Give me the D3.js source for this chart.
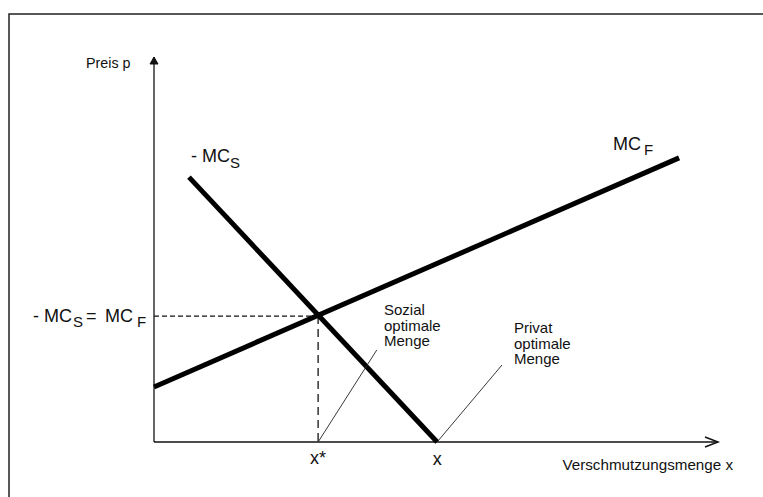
<!DOCTYPE html>
<html><head><meta charset="utf-8">
<script src="https://cdn.jsdelivr.net/npm/d3@7"></script>
<style>body{margin:0;background:#fff}svg{display:block;font-family:"Liberation Sans",Arial,sans-serif}</style>
</head><body><div id="chart"></div>
<script>
// data (abstract units)
const xDomain = [0, 10];
const yDomain = [0, 10];
const mcfX = [0, 9.31];
const mcfY = [1.43, 7.38];
const mcsX = [0.62, 5.02];
const mcsY = [6.88, 0];
const xStar = 2.91;
const pStar = 3.27;
const xPrivate = 5.02;
const sozialLeaderEnd = [3.95, 2.39];
const privatLeaderEnd = [6.17, 2.0];
const axisTitles = ["Preis p", "Verschmutzungsmenge x"];
const xTickLabels = ["x*", "x"];
const sozialLines = ["Sozial", "optimale", "Menge"];
const privatLines = ["Privat", "optimale", "Menge"];

const W = 763, H = 497;
const svg = d3.select("#chart").append("svg").attr("width", W).attr("height", H);
const x = d3.scaleLinear().domain(xDomain).range([154, 718]);
const y = d3.scaleLinear().domain(yDomain).range([442, 57]);

// frame
svg.append("rect").attr("x", 9).attr("y", 14).attr("width", W).attr("height", H)
  .attr("fill", "none").attr("stroke", "#222").attr("stroke-width", 1.5);

// axes
svg.append("line").attr("x1", x(0)).attr("y1", y(0)).attr("x2", x(0)).attr("y2", y(10))
  .attr("stroke", "#333").attr("stroke-width", 1.5);
svg.append("path").attr("d", `M${x(0)-4},${y(10)+7} L${x(0)},${y(10)} L${x(0)+4},${y(10)+7} Z`)
  .attr("fill", "#111").attr("stroke", "#111").attr("stroke-width", 1);
svg.append("line").attr("x1", x(0)).attr("y1", y(0)).attr("x2", x(10)).attr("y2", y(0))
  .attr("stroke", "#111").attr("stroke-width", 1.5);
svg.append("path").attr("d", `M${x(10)-13},${y(0)-5} L${x(10)},${y(0)} L${x(10)-13},${y(0)+5}`)
  .attr("fill", "none").attr("stroke", "#111").attr("stroke-width", 1.5);

// dashed guides
svg.append("line").attr("x1", x(0)).attr("y1", y(pStar)).attr("x2", x(xStar)).attr("y2", y(pStar))
  .attr("stroke", "#111").attr("stroke-width", 1.2).attr("stroke-dasharray", "5,3");
svg.append("line").attr("x1", x(xStar)).attr("y1", y(pStar)).attr("x2", x(xStar)).attr("y2", y(0))
  .attr("stroke", "#333").attr("stroke-width", 1.5).attr("stroke-dasharray", "8,5");

// curves
const line = d3.line().x(d => x(d[0])).y(d => y(d[1]));
svg.append("path").attr("d", line(mcfX.map((v, i) => [v, mcfY[i]])))
  .attr("fill", "none").attr("stroke", "#000").attr("stroke-width", 5);
svg.append("path").attr("d", line(mcsX.map((v, i) => [v, mcsY[i]])))
  .attr("fill", "none").attr("stroke", "#000").attr("stroke-width", 5);

// leader lines
svg.append("line").attr("x1", x(xStar)).attr("y1", y(0)).attr("x2", x(sozialLeaderEnd[0])).attr("y2", y(sozialLeaderEnd[1]))
  .attr("stroke", "#222").attr("stroke-width", 0.9);
svg.append("line").attr("x1", x(xPrivate)).attr("y1", y(0)).attr("x2", x(privatLeaderEnd[0])).attr("y2", y(privatLeaderEnd[1]))
  .attr("stroke", "#222").attr("stroke-width", 0.9);

// texts
const T = (xx, yy, s, fs, anchor) => svg.append("text").attr("x", xx).attr("y", yy)
  .attr("font-size", fs).attr("fill", "#111").attr("text-anchor", anchor || "start").text(s);

T(86, 68, axisTitles[0], 14.3);
T(733, 470, axisTitles[1], 15.2, "end");
T(x(xStar), 464, xTickLabels[0], 18, "middle");
T(x(xPrivate), 465, xTickLabels[1], 18, "middle");

// MC_F label
T(613, 150, "MC", 18); T(644, 155, "F", 15);
// -MC_S label
T(191, 162, "- MC", 18); T(230, 168, "S", 15);
// equality label
T(33, 322, "- MC", 18); T(73, 327, "S", 15); T(86, 322, "=", 18);
T(105, 322, "MC", 18); T(137, 327, "F", 15);

sozialLines.forEach((s, i) => T(384, 315 + i * 15.5, s, 15));
privatLines.forEach((s, i) => T(514, 333 + i * 15.5, s, 15));
</script></body></html>
